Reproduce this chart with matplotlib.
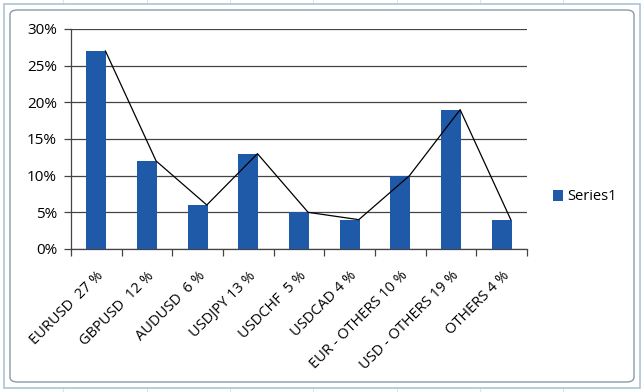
import matplotlib
matplotlib.use("Agg")
import matplotlib.pyplot as plt
from matplotlib.patches import FancyBboxPatch, Rectangle
from matplotlib.ticker import FuncFormatter

categories = ["EURUSD  27 %", "GBPUSD  12 %", "AUDUSD  6 %", "USDJPY 13 %",
              "USDCHF  5 %", "USDCAD 4 %", "EUR - OTHERS 10 %",
              "USD - OTHERS 19 %", "OTHERS 4 %"]
values = [0.27, 0.12, 0.06, 0.13, 0.05, 0.04, 0.10, 0.19, 0.04]
series_name = "Series1"

plt.rcParams['font.family'] = ['Open Sans', 'DejaVu Sans']

fig = plt.figure(figsize=(6.44, 3.92), dpi=100)
fig.patch.set_facecolor('white')

# faint spreadsheet lines outside the chart
for xx in [63, 147, 230, 313, 397, 480, 563]:
    fig.add_artist(plt.Line2D([xx/644, xx/644], [0, 1], color='#dde3ea', lw=0.8, zorder=0))
# chart frame
fig.add_artist(Rectangle((4/644, 4/392), 636/644, 384/392, transform=fig.transFigure,
                         fill=True, facecolor='white', edgecolor='#a9c6d6', lw=1.2, zorder=1))
fig.add_artist(FancyBboxPatch((10/644, 10/392), 624/644, 372/392, transform=fig.transFigure,
                              boxstyle="round,pad=0,rounding_size=0.012",
                              fill=False, edgecolor='#8a9aa6', lw=1.0, zorder=2))

ax = fig.add_axes([71/644, 1 - 249/392, (527 - 71)/644, (249 - 29)/392])
ax.set_zorder(5)
ax.set_facecolor('none')
x = list(range(len(categories)))
bars = ax.bar(x, values, width=0.4, color='#1f5aa8', label=series_name, zorder=3)
ax.plot([i + 0.18 for i in x], values, color='black', lw=0.9, zorder=4)

ax.set_xlim(-0.5, len(categories) - 0.5)
ax.set_ylim(0, 0.30)
ax.set_yticks([0, 0.05, 0.10, 0.15, 0.20, 0.25, 0.30])
ax.yaxis.set_major_formatter(FuncFormatter(lambda v, p: f"{round(v*100)}%"))
ax.yaxis.grid(True, color='#444444', lw=0.9, zorder=0)
ax.set_axisbelow(True)
ax.tick_params(axis='y', length=5, width=0.9, color='#444444', labelsize=11, pad=5)

ax.set_xticks([i - 0.5 for i in range(len(categories) + 1)], minor=False)
ax.set_xticklabels([])
ax.tick_params(axis='x', length=5, width=0.9, color='#444444', direction='out')
ax.set_xticks(x, minor=True)
ax.set_xticklabels(categories, minor=True, rotation=45, ha='right', rotation_mode='anchor',
                   fontsize=10.5)
ax.tick_params(axis='x', which='minor', length=0, pad=14)

for s in ['top', 'right']:
    ax.spines[s].set_visible(False)
for s in ['left', 'bottom']:
    ax.spines[s].set_color('#444444')
    ax.spines[s].set_linewidth(0.9)

leg = fig.legend(handles=[bars], labels=[series_name], loc='center left',
                 bbox_to_anchor=(540/644, 1 - 197/392), frameon=False, fontsize=10.5,
                 handlelength=0.7, handleheight=0.7, handletextpad=0.3)
leg.set_zorder(6)

fig.savefig("out.png", dpi=100)
